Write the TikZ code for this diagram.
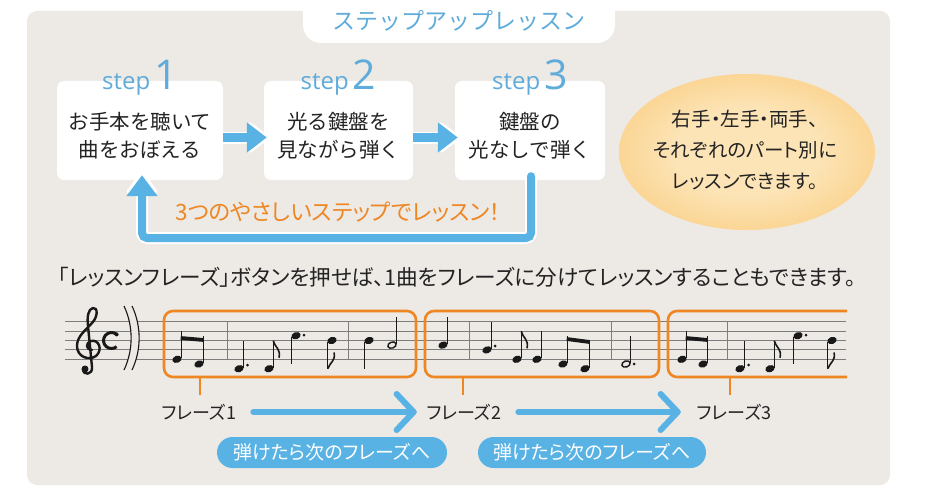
\documentclass[tikz,border=0pt]{standalone}
\usepackage{fontspec}
\usetikzlibrary{arrows.meta,calc}
\newfontfamily\jp{Noto Sans CJK JP}
\newfontfamily\jpp{Noto Sans CJK JP}[RawFeature=+palt]
\newfontfamily\stepf{Open Sans}
\definecolor{panel}{RGB}{237,233,229}
\definecolor{sky}{RGB}{88,178,228}
\definecolor{skytxt}{RGB}{95,172,218}
\definecolor{org}{RGB}{238,135,35}
\definecolor{txt}{RGB}{35,35,35}
\definecolor{staffc}{RGB}{125,125,125}
\definecolor{notec}{RGB}{25,25,25}
\definecolor{glowc}{RGB}{249,204,130}
\definecolor{glowmid}{RGB}{251,215,152}
\definecolor{glowin}{RGB}{252,228,182}
\pgfdeclareradialshading{glow}{\pgfpoint{0bp}{0bp}}{color(0bp)=(glowin); color(14bp)=(glowin); color(24bp)=(glowmid); color(31bp)=(glowc); color(38bp)=(glowc!65!panel); color(44bp)=(glowc!25!panel); color(50bp)=(panel)}
\newcommand\nhead[2]{\fill[notec,rotate around={20:(#1,#2)}] (#1,#2) ellipse [x radius=4.8, y radius=3.5];}
\newcommand\qup[2]{\nhead{#1}{#2}\draw[stemline] (#1+4.2,#2-1) -- (#1+4.2,#2-28);}
\newcommand\qdown[2]{\nhead{#1}{#2}\draw[stemline] (#1-4.2,#2+1) -- (#1-4.2,#2+28);}
\newcommand\eup[2]{\qup{#1}{#2}\draw[flagline] (#1+4.2,#2-28) .. controls (#1+6,#2-21) and (#1+12,#2-20) .. (#1+10,#2-11);}
\newcommand\edown[2]{\qdown{#1}{#2}\draw[flagline] (#1-4.2,#2+28) .. controls (#1-2,#2+22) and (#1+4,#2+20) .. (#1+2,#2+12);}
\newcommand\ndot[2]{\fill[notec] (#1,#2) circle (1.5);}
\newcommand\hup[2]{\draw[notec,line width=1.4,rotate around={20:(#1,#2)}] (#1,#2) ellipse [x radius=4.3, y radius=3.0];\draw[stemline] (#1+4.4,#2-1) -- (#1+4.4,#2-28);}
\newcommand\beam[4]{\draw[notec,line width=3.8] (#1+3.7,#2) -- (#3+4.7,#4);}
\newcommand\barl[1]{\draw[staffc,line width=1] (#1,321.7) -- (#1,359.3);}
\begin{document}
\begin{tikzpicture}[x=1pt,y=-1pt,
  stepbox/.style={fill=white,rounded corners=7pt,minimum width=#1,minimum height=99pt,inner sep=0pt},
  boxtext/.style={font=\jp\fontsize{20.5}{28}\selectfont,text=txt,align=center,inner sep=0pt},
  steplabel/.style={font=\stepf\fontsize{24}{24}\selectfont,text=skytxt,anchor=base,inner sep=0pt},
  fatw/.style={white,line width=12pt,-{Triangle[width=35pt,length=24pt,round]}},
  fatb/.style={sky,line width=8.5pt,-{Triangle[width=29pt,length=20pt]}},
  loopw/.style={white,line width=12pt,rounded corners=6pt,-{Triangle[width=35pt,length=25pt,round]},line cap=round},
  loopb/.style={sky,line width=8pt,rounded corners=5pt,-{Triangle[width=30pt,length=21pt]},line cap=round},
  obox/.style={draw=org,line width=2.6pt,rounded corners=9pt},
  otick/.style={draw=org,line width=2.4pt},
  phr/.style={font=\jpp\fontsize{18}{18}\selectfont,text=txt,inner sep=0pt},
  barrow/.style={sky,line width=6pt,line cap=round,line join=round},
  pill/.style={fill=sky,text=white,rounded corners=15.5pt,minimum width=#1,minimum height=31pt,inner sep=0pt,font=\jpp\fontsize{19}{19}\selectfont},
  stemline/.style={notec,line width=1.1pt},
  flagline/.style={notec,line width=1.6pt}
]
\useasboundingbox (0,0) rectangle (925,492);
% panel
\fill[panel,rounded corners=10pt] (27,11) rectangle (890,485);
% title tab
\fill[white,rounded corners=18pt] (303,-40) rectangle (615,43);
\node[font=\jp\fontsize{23}{23}\selectfont,text=skytxt,inner sep=0pt] (ttl) at (459,21) {ステップアップレッスン};
% glow
\shade[shading=glow] (747,152) ellipse [x radius=128, y radius=78];
\node[font=\jpp\fontsize{19.5}{31}\selectfont,text=txt,align=center,inner sep=0pt] (gt) at (745,150) {右手・左手・両手、\\それぞれのパート別に\\レッスンできます。};
% step boxes
\node[stepbox=166pt] (b1) at (140,130.5) {};
\node[stepbox=149pt] (b2) at (338.5,130.5) {};
\node[stepbox=150pt] (b3) at (530,130.5) {};
\node[boxtext] (t1) at (140,136) {お手本を聴いて\\曲をおぼえる};
\node[boxtext] (t2) at (338.5,136) {光る鍵盤を\\見ながら弾く};
\node[boxtext] (t3) at (530,136) {鍵盤の\\光なしで弾く};
\node[steplabel] (s1) at (140,90) {step\,{\fontsize{41}{41}\selectfont 1}};
\node[steplabel] (s2) at (338.5,90) {step\,{\fontsize{41}{41}\selectfont 2}};
\node[steplabel] (s3) at (530,90) {step\,{\fontsize{41}{41}\selectfont 3}};
% arrows between boxes
\draw[fatw] ([yshift=-7pt]b1.east) -- ([xshift=5pt,yshift=-7pt]b2.west);
\draw[fatb] ([yshift=-7pt]b1.east) -- ([xshift=3pt,yshift=-7pt]b2.west);
\draw[fatw] ([yshift=-7pt]b2.east) -- ([xshift=5pt,yshift=-7pt]b3.west);
\draw[fatb] ([yshift=-7pt]b2.east) -- ([xshift=3pt,yshift=-7pt]b3.west);
% loop arrow
\draw[loopw] ([xshift=1pt,yshift=4pt]b3.south) |- (330,238) -| ([xshift=2pt,yshift=8pt]b1.south);
\draw[loopb] ([xshift=1pt,yshift=4pt]b3.south) |- (330,238) -| ([xshift=2pt,yshift=5pt]b1.south);
\node[font=\jpp\fontsize{22.5}{22.5}\selectfont,text=org,inner sep=0pt] (lt) at (338,212) {3つのやさしいステップでレッスン！};
% sentence
\node[font=\jpp\fontsize{21.6}{21.6}\selectfont,text=txt,inner sep=0pt] (sent) at (457,277) {「レッスンフレーズ」ボタンを押せば、1曲をフレーズに分けてレッスンすることもできます。};
% staff
\foreach \yy in {321.7,331.1,340.5,349.9,359.3} \draw[staffc,line width=1] (65,\yy) -- (846,\yy);
\fill[panel] (124,306) .. controls (133.5,326) and (133.5,350) .. (124,370) -- (132,370) .. controls (141.5,350) and (141.5,326) .. (132,306) -- cycle;
\draw[notec,line width=1.1] (124,306) .. controls (133.5,326) and (133.5,350) .. (124,370);
\draw[notec,line width=1.1] (132,306) .. controls (141.5,326) and (141.5,350) .. (132,370);
% treble clef
\draw[notec,line width=2.4,line cap=round,line join=round] (92,350) .. controls (86,350) and (85,343) .. (91,341)
 .. controls (99,339) and (103,350) .. (96,356)
 .. controls (89,361) and (77,357) .. (77,346)
 .. controls (77,336) and (86,330) .. (92,323)
 .. controls (98,317) and (98,307) .. (93,308)
 .. controls (88,309) and (87,317) .. (88,326)
 -- (92,367)
 .. controls (93,375) and (83,376) .. (83,369);
\fill[notec] (85,369) circle (3.5);
% common time
\draw[notec,line width=3] (111.5,340.5) ++(-50:8) arc[start angle=-50,end angle=-310,radius=8];
\fill[notec] (116.6,334.4) circle (2);
% phrase boxes
\node[obox,minimum width=252pt,minimum height=66pt] (ph1) at (290,344) {};
\node[obox,minimum width=234pt,minimum height=66pt] (ph2) at (542,344) {};
\draw[org,line width=2.6pt,rounded corners=9pt] (847,311) -- (668,311) -- (668,377) -- (847,377);
% notes phrase 1
\qup{177}{359.3}\qup{199}{364}
\barl{227}
\qup{239}{368.7}\ndot{247.5}{365}
\eup{269}{368.7}
\qdown{296}{335.7}\ndot{304}{335.2}
\edown{332}{340.5}
\barl{348}
\qdown{369}{340.5}
\hup{392}{345.1}
% phrase 2
\qup{443}{345.1}
\barl{469}
\qup{487}{349.9}\ndot{495}{346}
\eup{517}{359.3}
\qup{537}{359.3}
\qup{563}{364}\qup{585}{368.7}
\barl{611}
\hup{626}{364}\ndot{634}{364}
% phrase 3
\qup{682}{359.3}\qup{703}{364}
\barl{727}
\qup{740}{368.7}\ndot{748.5}{365}
\eup{770}{368.7}
\qdown{798}{335.7}\ndot{806}{335.2}
\edown{832}{340.5}
% beams
\beam{177}{338}{199}{340}
\beam{563}{339}{585}{342}
\beam{682}{338}{703}{340}
% phrase labels
\node[phr] (p1) at (199,412) {フレーズ1};
\node[phr] (p2) at (464,412) {フレーズ2};
\node[phr] (p3) at (734,412) {フレーズ3};
\draw[otick] ([xshift=1pt,yshift=9pt]p1.north) -- ++(0,-18);
\draw[otick] ([xshift=-1pt,yshift=9pt]p2.north) -- ++(0,-18);
\draw[otick] ([xshift=-4pt,yshift=9pt]p3.north) -- ++(0,-18);
% bottom arrows
\draw[barrow] ([xshift=17pt]p1.east) -- ([xshift=-13pt]p2.west) coordinate (e1);
\draw[barrow] ($(e1)+(-17,-18)$) -- (e1) -- ($(e1)+(-17,18)$);
\draw[barrow] ([xshift=17pt]p2.east) -- ([xshift=-19pt]p3.west) coordinate (e2);
\draw[barrow] ($(e2)+(-17,-18)$) -- (e2) -- ($(e2)+(-17,18)$);
% pills
\node[pill=230pt] (pl1) at (332,452.5) {弾けたら次のフレーズへ};
\node[pill=228pt] (pl2) at (592,452.5) {弾けたら次のフレーズへ};
\end{tikzpicture}
\end{document}
